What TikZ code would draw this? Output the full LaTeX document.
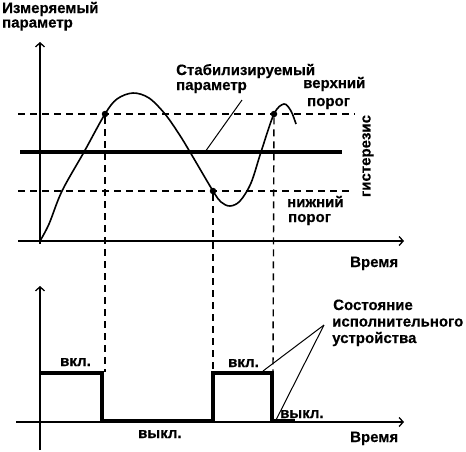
\documentclass[tikz,border=0pt]{standalone}
\usepackage{fontspec}
\setmainfont{Liberation Sans}[BoldFeatures={FakeBold=0.4}]
\usetikzlibrary{arrows.meta}
\begin{document}
\begin{tikzpicture}[x=1pt,y=-1pt,
  lbl/.style={font=\bfseries\fontsize{15}{15}\selectfont, anchor=base west, inner sep=0pt},
  leader/.style={line width=1pt},
  heavy/.style={line width=3.2pt},
  dsh/.style={line width=1.4pt, dash pattern=on 7pt off 5pt},
  axis/.style={line width=1.4pt, -{Straight Barb[length=4pt,width=9pt,line width=1.3pt]}},
  dot/.style={circle, fill, inner sep=0pt, minimum size=6.5pt}]
\useasboundingbox (0,0) rectangle (466,451);
% ---- upper graph axes
\coordinate (uy0) at (40,244); \coordinate (uy1) at (40,42);
\coordinate (ux0) at (18,241); \coordinate (ux1) at (404,241);
\draw[axis] (uy0) -- (uy1);
\draw[axis] (ux0) -- (ux1);
% thresholds
\coordinate (hi0) at (18,114); \coordinate (hi1) at (355,114);
\coordinate (lo0) at (18,191); \coordinate (lo1) at (352,191);
\draw[dsh] (hi0) -- (hi1);
\draw[dsh] (lo0) -- (lo1);
% set point
\coordinate (sp0) at (20,152); \coordinate (sp1) at (342,152);
\draw[heavy] (sp0) -- (sp1);
% measured curve
\draw[line width=1.6pt] plot[smooth, tension=0.55] coordinates {
 (40,241) (49,224) (62,191) (84,152) (105,114) (117,99) (133,93)
 (149,98) (165,114) (179,134) (190,152) (213,191) (221,202) (230,206)
 (240,201) (251,183) (261,152) (274,114) (284,104) (291,111) (296,124)};
% switching points
\node[dot] (d1) at (105,114) {};
\node[dot] (d2) at (213,191) {};
\node[dot] (d3) at (274,114) {};
% ---- lower graph axes
\coordinate (ly0) at (40,450); \coordinate (ly1) at (40,286);
\coordinate (lx0) at (16,422); \coordinate (lx1) at (404,422);
\draw[axis] (ly0) -- (ly1);
\draw[axis] (lx0) -- (lx1);
% dashed projections
\coordinate (v1) at (105,372); \coordinate (v2) at (213,372); \coordinate (v3) at (273,372);
\draw[dsh] (d1) -- (v1);
\draw[dsh] (d2) -- (v2);
\draw[dsh] (d3) -- (v3);
% relay state
\draw[heavy, line join=miter] (40,373) -- (102,373) -- (102,421) -- (213,421)
  -- (213,373) -- (272,373) -- (272,421) -- (295,421);
% ---- labels
\node[lbl] (t1) at (2,13) {Измеряемый};
\node[lbl] (t2) at (2,27.5) {параметр};
\node[lbl] (s1) at (176,75) {Стабилизируемый};
\node[lbl] (s2) at (176,90) {параметр};
\node[lbl] (up1) at (303,88) {верхний};
\node[lbl] (up2) at (307,106) {порог};
\node[lbl] (dn1) at (287,207) {нижний};
\node[lbl] (dn2) at (288,222) {порог};
\node[lbl, anchor=center, rotate=90] (hy) at (368,156) {гистерезис};
\node[lbl] (tm1) at (350,267) {Время};
\node[lbl] (tm2) at (350,442) {Время};
\node[lbl] (c1) at (333,310) {Состояние};
\node[lbl] (c2) at (332,326.5) {исполнительного};
\node[lbl] (c3) at (332,343) {устройства};
\node[lbl] (on1) at (60,366) {вкл.};
\node[lbl] (off1) at (138,438) {выкл.};
\node[lbl] (on2) at (228,367) {вкл.};
\node[lbl] (off2) at (280,418) {выкл.};
% leaders
\coordinate (sl) at (242,100); \coordinate (sl1) at (205,152);
\draw[leader] (sl) -- (sl1);
\coordinate (cl) at (324,325);
\coordinate (cl1) at (263,371); \coordinate (cl2) at (275,422);
\draw[leader] (cl) -- (cl1);
\draw[leader] (cl) -- (cl2);
\end{tikzpicture}
\end{document}
